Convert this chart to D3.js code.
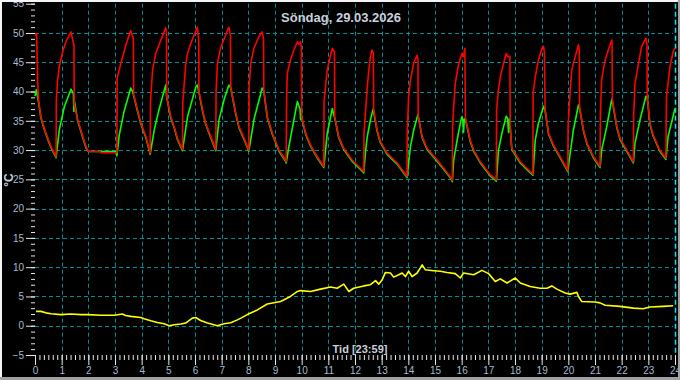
<!DOCTYPE html>
<html>
<head>
<meta charset="utf-8">
<script src="https://cdn.jsdelivr.net/npm/d3@7"></script>
<style>
  body { margin: 0; background: #000; }
  svg { display: block; }
</style>
</head>
<body>
<svg id="chart" width="680" height="380"></svg>
<script>
const title = "Söndag, 29.03.2026";
const xTitle = "Tid [23:59]";
const yTitle = "°C";
const nowHour = 24;

// flow temperature (red), [hour, °C]
const redSeries = [
  [0, 49.5], [0.06, 49.9], [0.1, 42], [0.13, 38.6],
  [0.22, 35.7], [0.35, 33.7], [0.48, 32.0], [0.6, 30.6], [0.79, 28.9],
  [0.8, 38.6], [0.85, 42.0], [0.91, 44.3], [1.04, 46.8], [1.16, 48.5], [1.35, 50.2], [1.46, 47.9], [1.47, 37.8],
  [1.6, 35.2], [1.72, 33.4], [1.91, 30.6], [2.0, 29.75], [2.45, 29.75], [2.47, 29.55], [3.07, 29.55],
  [3.08, 42.3], [3.29, 46.0], [3.41, 48.0], [3.59, 50.4], [3.69, 49.0], [3.7, 39.5],
  [3.84, 36.9], [3.97, 34.6], [4.16, 32.3], [4.32, 29.5],
  [4.33, 38.3], [4.41, 43.7], [4.53, 46.5], [4.72, 48.8], [4.9, 50.9], [4.93, 50.0], [4.94, 39.1],
  [5.09, 35.7], [5.22, 34.0], [5.34, 32.0], [5.53, 30.1],
  [5.54, 38.0], [5.65, 44.5], [5.72, 46.5], [5.84, 48.2], [6.09, 51.0], [6.14, 48.8], [6.15, 40.0],
  [6.28, 36.9], [6.4, 34.6], [6.59, 32.3], [6.78, 30.1],
  [6.79, 40.0], [6.84, 44.8], [6.96, 47.4], [7.15, 49.7], [7.27, 51.0], [7.33, 49.5], [7.34, 40.8],
  [7.53, 36.3], [7.65, 34.0], [7.84, 32.0], [8.02, 30.0],
  [8.03, 40.8], [8.09, 44.8], [8.21, 47.4], [8.4, 49.4], [8.52, 50.2], [8.57, 49.0], [8.58, 40.3],
  [8.71, 35.7], [8.9, 32.9], [9.15, 30.0], [9.4, 28.3], [9.42, 28.0],
  [9.43, 36.9], [9.46, 43.1], [9.58, 45.4], [9.71, 47.1], [9.84, 48.5], [9.9, 48.1], [9.96, 48.5], [9.99, 47.5], [10.0, 35.7],
  [10.15, 32.9], [10.33, 30.9], [10.58, 28.9], [10.83, 27.2],
  [10.84, 38.5], [10.96, 43.7], [11.08, 46.2], [11.15, 47.4], [11.2, 46.9], [11.23, 46.9], [11.24, 35.7],
  [11.39, 32.3], [11.58, 30.3], [11.89, 28.3], [12.27, 26.6], [12.33, 26.3],
  [12.34, 33.0], [12.39, 36.3], [12.46, 40.8], [12.52, 43.7], [12.58, 46.0], [12.64, 47.1], [12.69, 46.5], [12.7, 36.9],
  [12.83, 33.4], [12.95, 31.5], [13.2, 29.5], [13.58, 27.8], [13.95, 25.5],
  [13.96, 33.0], [14.01, 39.1], [14.08, 42.0], [14.2, 44.8], [14.33, 46.2], [14.36, 45.5], [14.37, 35.7],
  [14.52, 32.3], [14.7, 30.3], [15.08, 28.3], [15.57, 25.5], [15.65, 24.8],
  [15.66, 34.0], [15.7, 37.4], [15.76, 41.4], [15.89, 44.8], [16.01, 46.5], [16.07, 46.0], [16.12, 47.4], [16.14, 35.5],
  [16.32, 31.7], [16.45, 30.0], [16.7, 28.0], [17.07, 25.8], [17.3, 24.9],
  [17.31, 36.9], [17.38, 40.3], [17.45, 42.5], [17.57, 44.8], [17.67, 46.5], [17.72, 46.0], [17.81, 46.0], [17.82, 34.0],
  [17.88, 30.3], [18.2, 28.0], [18.51, 26.6], [18.67, 25.9],
  [18.68, 39.7], [18.76, 42.5], [18.88, 45.4], [19.01, 47.4], [19.07, 47.7], [19.1, 46.8], [19.13, 36.9],
  [19.26, 32.9], [19.44, 30.9], [19.69, 28.9], [19.98, 26.5],
  [19.99, 34.0], [20.07, 40.3], [20.13, 43.7], [20.26, 46.0], [20.38, 48.0], [20.41, 47.0], [20.42, 37.4],
  [20.57, 33.4], [20.7, 31.2], [20.94, 28.9], [21.19, 27.2],
  [21.2, 36.0], [21.25, 42.0], [21.38, 45.4], [21.5, 47.1], [21.63, 48.8], [21.64, 48.0], [21.65, 38.6],
  [21.82, 34.0], [21.94, 32.0], [22.19, 30.0], [22.44, 28.0],
  [22.45, 36.0], [22.5, 41.4], [22.63, 44.8], [22.75, 47.7], [22.91, 49.1], [22.95, 48.0], [22.96, 39.1],
  [23.06, 34.6], [23.18, 32.6], [23.43, 30.0], [23.66, 28.6],
  [23.67, 35.0], [23.68, 39.1], [23.81, 44.2], [23.93, 46.8], [24.0, 47.4]
];

// return temperature (green), [hour, °C]
const greenSeries = [
  [0, 39.2], [0.05, 40.3], [0.1, 39.0], [0.13, 38.3],
  [0.22, 35.5], [0.35, 33.5], [0.48, 31.8], [0.6, 30.4], [0.79, 28.7],
  [0.91, 33.4], [1.1, 37.4], [1.35, 40.4], [1.44, 39.6], [1.46, 36.6], [1.48, 38.3],
  [1.6, 35.0], [1.72, 33.2], [1.91, 30.4], [2.0, 29.75], [3.06, 29.75], [3.07, 29.0],
  [3.16, 32.6], [3.34, 36.6], [3.59, 40.6], [3.66, 40.0], [3.7, 39.3],
  [3.84, 36.7], [3.97, 34.4], [4.16, 32.1], [4.32, 29.3],
  [4.47, 33.4], [4.65, 36.9], [4.9, 41.1], [4.94, 39.0],
  [5.09, 35.5], [5.22, 33.8], [5.34, 31.8], [5.53, 29.9],
  [5.72, 35.7], [6.03, 40.8], [6.09, 41.1], [6.15, 39.8],
  [6.28, 36.7], [6.4, 34.4], [6.59, 32.1], [6.78, 29.9],
  [6.9, 35.2], [7.09, 38.6], [7.27, 41.1], [7.34, 40.6],
  [7.53, 36.1], [7.65, 33.8], [7.84, 31.8], [8.02, 29.8],
  [8.21, 35.2], [8.52, 40.6], [8.58, 40.1],
  [8.71, 35.5], [8.9, 32.7], [9.15, 29.8], [9.4, 28.1], [9.42, 27.8],
  [9.52, 30.6], [9.71, 35.2], [9.84, 38.3], [9.94, 37.0], [9.96, 35.2], [9.98, 36.5], [10.0, 35.5],
  [10.15, 32.7], [10.33, 30.7], [10.58, 28.7], [10.83, 27.0],
  [10.96, 32.9], [11.15, 37.1], [11.2, 36.1], [11.24, 35.5],
  [11.39, 32.1], [11.58, 30.1], [11.89, 28.1], [12.27, 26.4], [12.33, 26.1],
  [12.39, 29.5], [12.46, 32.3], [12.58, 35.2], [12.68, 37.0],
  [12.83, 33.2], [12.95, 31.3], [13.2, 29.3], [13.58, 27.6], [13.95, 25.3],
  [14.08, 30.6], [14.2, 33.4], [14.36, 36.1],
  [14.52, 32.1], [14.7, 30.1], [15.08, 28.1], [15.57, 25.3], [15.65, 24.6],
  [15.7, 28.3], [15.83, 31.7], [15.95, 34.6], [16.01, 35.7], [16.05, 35.0], [16.07, 33.0], [16.1, 35.3], [16.14, 35.3],
  [16.32, 31.5], [16.45, 29.8], [16.7, 27.8], [17.07, 25.6], [17.3, 24.7],
  [17.38, 30.0], [17.51, 32.9], [17.67, 35.8], [17.72, 35.5], [17.76, 33.0], [17.79, 35.3], [17.82, 34.0],
  [17.88, 30.1], [18.2, 27.8], [18.51, 26.4], [18.67, 25.7],
  [18.76, 31.7], [18.88, 34.6], [19.07, 37.5], [19.13, 36.7],
  [19.26, 32.7], [19.44, 30.7], [19.69, 28.7], [19.98, 26.3],
  [20.07, 29.5], [20.19, 33.4], [20.38, 37.7], [20.42, 37.2],
  [20.57, 33.2], [20.7, 31.0], [20.94, 28.7], [21.19, 27.0],
  [21.25, 30.0], [21.44, 34.0], [21.63, 38.7], [21.65, 38.4],
  [21.82, 33.8], [21.94, 31.8], [22.19, 29.8], [22.44, 27.8],
  [22.5, 31.2], [22.69, 35.2], [22.91, 39.2], [22.96, 38.9],
  [23.06, 34.4], [23.18, 32.4], [23.43, 29.8], [23.66, 28.4],
  [23.74, 32.3], [24.0, 37.1]
];

// outdoor temperature (yellow), [hour, °C]
const yellowSeries = [
  [0.04, 2.45], [0.22, 2.45], [0.41, 2.2], [0.6, 2.05], [0.97, 1.9], [1.35, 2.0], [1.72, 1.9],
  [1.97, 1.9], [2.47, 1.8], [2.97, 1.8], [3.28, 2.0], [3.4, 1.75], [3.59, 1.6], [3.97, 1.4],
  [4.09, 1.2], [4.34, 0.85], [4.59, 0.56], [4.84, 0.34], [5.03, 0.0], [5.22, 0.17], [5.47, 0.29],
  [5.65, 0.46], [5.9, 1.3], [6.03, 1.4], [6.21, 0.9], [6.47, 0.46], [6.84, 0.0], [6.96, 0.17],
  [7.09, 0.34], [7.34, 0.5], [7.59, 1.0], [7.72, 1.3], [7.96, 1.9], [8.34, 2.7], [8.71, 3.7],
  [9.21, 4.15], [9.58, 5.0], [9.84, 5.85], [9.96, 6.0], [10.33, 5.85], [10.71, 6.25],
  [11.08, 6.6], [11.33, 6.4], [11.58, 7.1], [11.77, 5.85], [11.95, 6.4], [12.33, 6.8],
  [12.58, 7.0], [12.77, 7.7], [12.89, 7.1], [13.02, 7.85], [13.14, 9.1], [13.33, 9.0],
  [13.45, 8.3], [13.64, 8.7], [13.77, 9.0], [13.89, 8.4], [14.01, 9.3], [14.14, 8.4],
  [14.33, 9.0], [14.52, 10.4], [14.64, 9.55], [14.95, 9.4], [15.2, 9.3], [15.45, 9.1],
  [15.76, 8.9], [15.95, 8.15], [16.07, 9.0], [16.45, 8.7], [16.76, 9.45], [17.01, 8.9],
  [17.26, 7.55], [17.45, 8.0], [17.7, 7.3], [18.01, 8.15], [18.2, 7.3], [18.57, 6.7],
  [18.94, 6.4], [19.2, 6.4], [19.38, 6.8], [19.57, 6.25], [19.88, 5.6], [20.07, 5.4],
  [20.32, 5.7], [20.38, 5.0], [20.5, 4.15], [21.0, 4.05], [21.19, 3.9], [21.38, 3.5],
  [21.94, 3.3], [22.44, 3.0], [22.81, 2.9], [23.06, 3.2], [23.56, 3.3], [23.93, 3.4]
];

const yMajorTicks = [-5, 0, 5, 10, 15, 20, 25, 30, 35, 40, 45, 50, 55];
const yGridTicks = [0, 5, 10, 15, 20, 25, 30, 35, 40, 45, 50];
const xMajorTicks = d3.range(0, 25);

const width = 680, height = 380;
const svg = d3.select("#chart");

const x = d3.scaleLinear().domain([0, 24]).range([35, 675]);
const y = d3.scaleLinear().domain([-5, 55]).range([355, 3.7]);

const gridColor = "#008f94";
const labelColor = "#a9bad3";

svg.append("rect")
  .attr("width", width)
  .attr("height", height)
  .attr("fill", "#000");

// dashed grid
svg.append("g")
  .selectAll("line")
  .data(yGridTicks)
  .join("line")
  .attr("x1", x(0)).attr("x2", x(24) - 2)
  .attr("y1", d => Math.round(y(d)) + 0.5)
  .attr("y2", d => Math.round(y(d)) + 0.5)
  .attr("stroke", gridColor)
  .attr("stroke-dasharray", "4,3");

svg.append("g")
  .selectAll("line")
  .data(xMajorTicks.filter(d => d > 0 && d < 24))
  .join("line")
  .attr("x1", d => Math.round(x(d)) + 0.5)
  .attr("x2", d => Math.round(x(d)) + 0.5)
  .attr("y1", y(55)).attr("y2", y(-5))
  .attr("stroke", gridColor)
  .attr("stroke-dasharray", "4,3");

// current time marker
svg.append("line")
  .attr("x1", Math.round(x(nowHour)) + 0.5)
  .attr("x2", Math.round(x(nowHour)) + 0.5)
  .attr("y1", y(55)).attr("y2", y(-5))
  .attr("stroke", "#00e8f0")
  .attr("stroke-width", 1.5)
  .attr("stroke-dasharray", "5,3");

// y axis: major ticks with labels, minor ticks every degree
const yAxis = d3.axisLeft(y)
  .tickValues(yMajorTicks)
  .tickSize(9)
  .tickPadding(2)
  .tickFormat(d3.format("d"));

const yAxisMinor = d3.axisLeft(y)
  .tickValues(d3.range(-5, 56))
  .tickSize(4)
  .tickFormat("");

svg.append("g").attr("transform", `translate(${x(0)},0)`).call(yAxisMinor);
svg.append("g").attr("transform", `translate(${x(0)},0)`).call(yAxis);

// x axis: hours, minor ticks every 10 minutes
const xAxis = d3.axisBottom(x)
  .tickValues(xMajorTicks)
  .tickSize(10)
  .tickPadding(2)
  .tickFormat(d3.format("d"));

const xAxisMinor = d3.axisBottom(x)
  .tickValues(d3.range(0, 24 * 6 + 1).map(d => d / 6))
  .tickSize(5)
  .tickFormat("");

svg.append("g").attr("transform", `translate(0,${y(-5)})`).call(xAxisMinor);
svg.append("g").attr("transform", `translate(0,${y(-5)})`).call(xAxis);

svg.selectAll(".domain").remove();
svg.selectAll(".tick line").attr("stroke", "#e8e8e8");
svg.selectAll(".tick text")
  .attr("fill", labelColor)
  .style("font-family", "Liberation Sans, Arial, sans-serif")
  .style("font-size", "10px");

// series lines
const line = d3.line()
  .x(d => x(d[0]))
  .y(d => y(d[1]));

const drawSeries = (data, color) => {
  svg.append("path")
    .datum(data)
    .attr("d", line)
    .attr("fill", "none")
    .attr("stroke", color)
    .attr("stroke-width", 1.6)
    .attr("stroke-linejoin", "round");
};

drawSeries(yellowSeries, "#ffff00");
drawSeries(greenSeries, "#00ff00");
drawSeries(redSeries, "#ff0000");

// texts
svg.append("text")
  .attr("x", 341)
  .attr("y", 22)
  .attr("text-anchor", "middle")
  .attr("fill", "#c9d1dd")
  .style("font-family", "Liberation Sans, Arial, sans-serif")
  .style("font-size", "13px")
  .style("font-weight", "bold")
  .text(title);

svg.append("text")
  .attr("x", 360)
  .attr("y", 353)
  .attr("text-anchor", "middle")
  .attr("fill", "#c9d1dd")
  .style("font-family", "Liberation Sans, Arial, sans-serif")
  .style("font-size", "11px")
  .style("font-weight", "bold")
  .text(xTitle);

svg.append("text")
  .attr("transform", "translate(13,180) rotate(-90)")
  .attr("text-anchor", "middle")
  .attr("fill", "#c9d1dd")
  .style("font-family", "Liberation Sans, Arial, sans-serif")
  .style("font-size", "12px")
  .style("font-weight", "bold")
  .text(yTitle);

// outer frame
svg.append("line").attr("x1", 0).attr("x2", width).attr("y1", 1).attr("y2", 1).attr("stroke", "#f4f4f4").attr("stroke-width", 2);
svg.append("line").attr("x1", 1).attr("x2", 1).attr("y1", 0).attr("y2", height).attr("stroke", "#f4f4f4").attr("stroke-width", 2);
svg.append("line").attr("x1", 0).attr("x2", width).attr("y1", height - 1.5).attr("y2", height - 1.5).attr("stroke", "#a0a0a0").attr("stroke-width", 3);
svg.append("line").attr("x1", width - 1).attr("x2", width - 1).attr("y1", 0).attr("y2", height).attr("stroke", "#a0a0a0").attr("stroke-width", 2);
</script>
</body>
</html>
